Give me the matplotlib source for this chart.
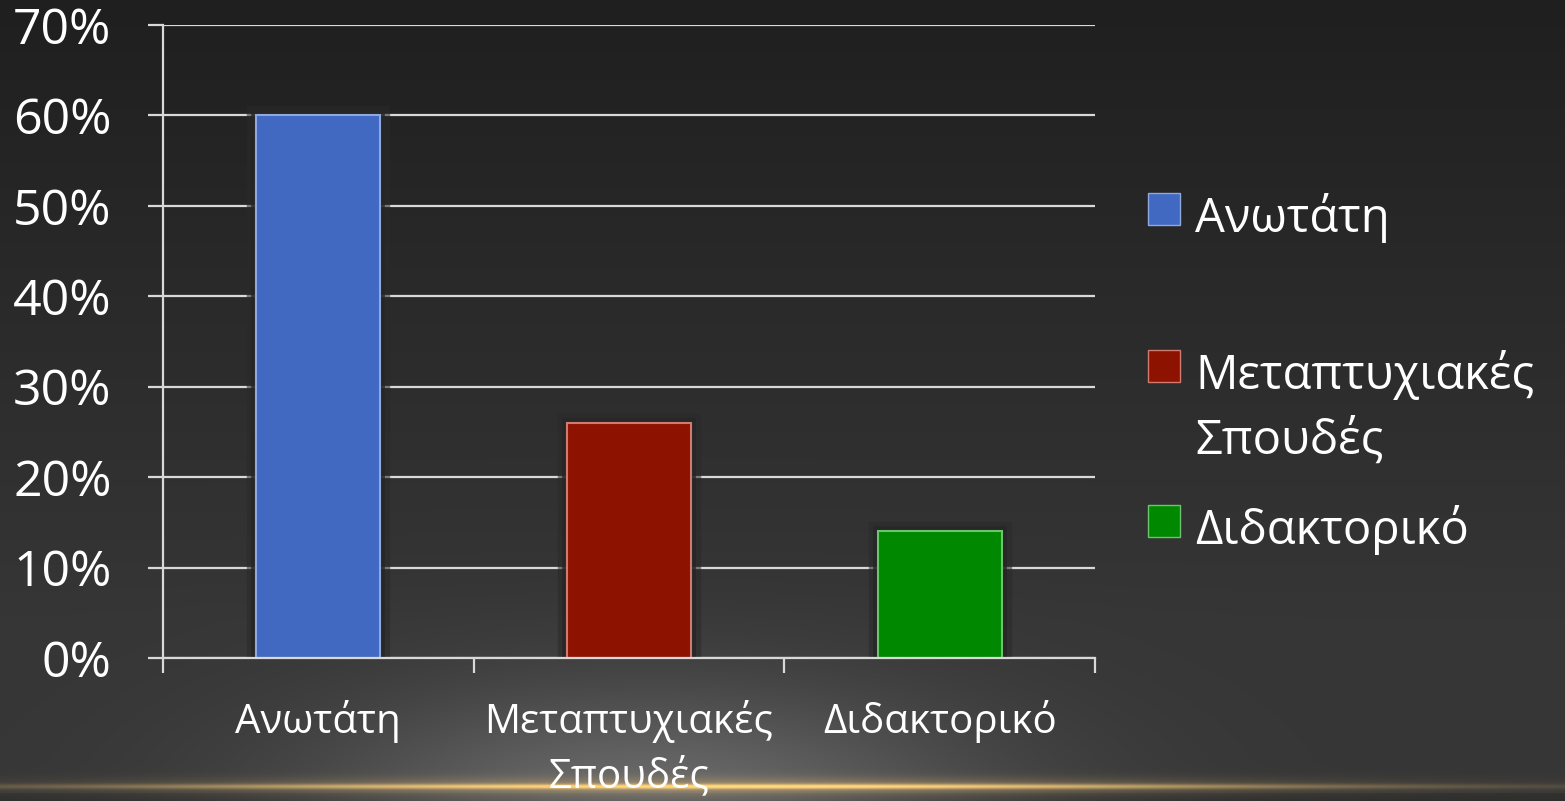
import numpy as np
import matplotlib.pyplot as plt
import matplotlib.patheffects as pe
from matplotlib.patches import Rectangle

plt.rcParams['font.family'] = ['Open Sans', 'DejaVu Sans']

# επίπεδα σπουδών και ποσοστά
categories = ['Ανωτάτη', 'Μεταπτυχιακές Σπουδές', 'Διδακτορικό']
values = [0.60, 0.26, 0.14]
colors = ['#4169c2', '#8e1200', '#008800']
edge_colors = ['#8fa8e0', '#d07a70', '#6cc46c']
y_ticks = [0, 0.1, 0.2, 0.3, 0.4, 0.5, 0.6, 0.7]

W, H = 1565, 801
fig = plt.figure(figsize=(W / 100, H / 100), dpi=100)

# φόντο: σκούρο γκρι με φωτεινή λάμψη και χρυσή γραμμή κάτω
bg = fig.add_axes([0, 0, 1, 1], zorder=-10)
yy, xx = np.mgrid[0:H, 0:W].astype(float)
base = 31 + 23 * np.clip(yy / 620, 0, 1)
base = np.where(yy > 792, base - 8, base)
glow = 52 * np.exp(-((xx - 650) / 340) ** 2 - ((yy - 805) / 120) ** 2)
gray = (base + glow) / 255
img = np.dstack([gray, gray, gray])
horiz = np.exp(-((xx - 720) / 520) ** 2) * 0.85 + 0.15 * np.exp(-((xx - 720) / 900) ** 2)
line = (np.exp(-((yy - 786) / 2.5) ** 2) * 0.9 + np.exp(-((yy - 786) / 9) ** 2) * 0.35) * horiz
gold = np.array([238, 196, 118]) / 255
img = img * (1 - line[..., None]) + gold * line[..., None]
bg.imshow(np.clip(img, 0, 1), extent=[0, W, H, 0], aspect='auto', interpolation='bilinear')
bg.set_axis_off()

ax = fig.add_axes([163 / W, 143 / H, (1095 - 163) / W, (776 - 143) / H])
ax.patch.set_alpha(0)

x = np.arange(len(categories))
bars = ax.bar(x, values, width=0.4, color=colors, zorder=3, linewidth=1.5)
for b, ec in zip(bars, edge_colors):
    b.set_edgecolor(ec)
    # σκούρο περίγραμμα γύρω από κάθε μπάρα
    b.set_path_effects([pe.Stroke(linewidth=14, foreground='#2a2a2a', alpha=0.55),
                        pe.Stroke(linewidth=7, foreground='#262626', alpha=0.8),
                        pe.Normal()])

ax.set_xlim(-0.5, len(categories) - 0.5)
ax.set_ylim(0, 0.7)
ax.set_yticks(y_ticks)
ax.set_yticklabels([f'{int(round(v * 100))}%' for v in y_ticks])
ax.yaxis.grid(True, color='#d9d9d9', linewidth=1.6, zorder=1)
ax.set_axisbelow(True)

ax.set_xticks(np.arange(len(categories) + 1) - 0.5)
ax.set_xticklabels([])
ax.set_xticks(x, minor=True)
ax.set_xticklabels([c.replace(' ', '\n') for c in categories], minor=True,
                   fontsize=29, color='white', linespacing=1.45)
ax.tick_params(axis='x', which='major', length=11, width=1.6, color='#d9d9d9', direction='out')
ax.tick_params(axis='x', which='minor', length=0, pad=30)
ax.tick_params(axis='y', length=11, width=1.6, color='#d9d9d9', direction='out',
               labelsize=36, labelcolor='white', pad=26)

for s in ['top', 'right']:
    ax.spines[s].set_visible(False)
for s in ['left', 'bottom']:
    ax.spines[s].set_color('#d9d9d9')
    ax.spines[s].set_linewidth(1.6)
    ax.spines[s].set_zorder(4)

# υπόμνημα δεξιά: τετράγωνο χρώματος και κείμενο, μια γραμμή τη φορά
legend_rows = [209, 366, 521]
for c, col, ec, yc in zip(categories, colors, edge_colors, legend_rows):
    fig.add_artist(Rectangle((1148 / W, 1 - (yc + 16) / H), 32 / W, 32 / H,
                             transform=fig.transFigure, facecolor=col, edgecolor=ec,
                             linewidth=1))
    for k, part in enumerate(c.split(' ')):
        fig.text(1195 / W, 1 - (yc + 23 + 65 * k) / H, part, color='white',
                 fontsize=34, va='baseline', ha='left')

fig.savefig('out.png', dpi=100)
